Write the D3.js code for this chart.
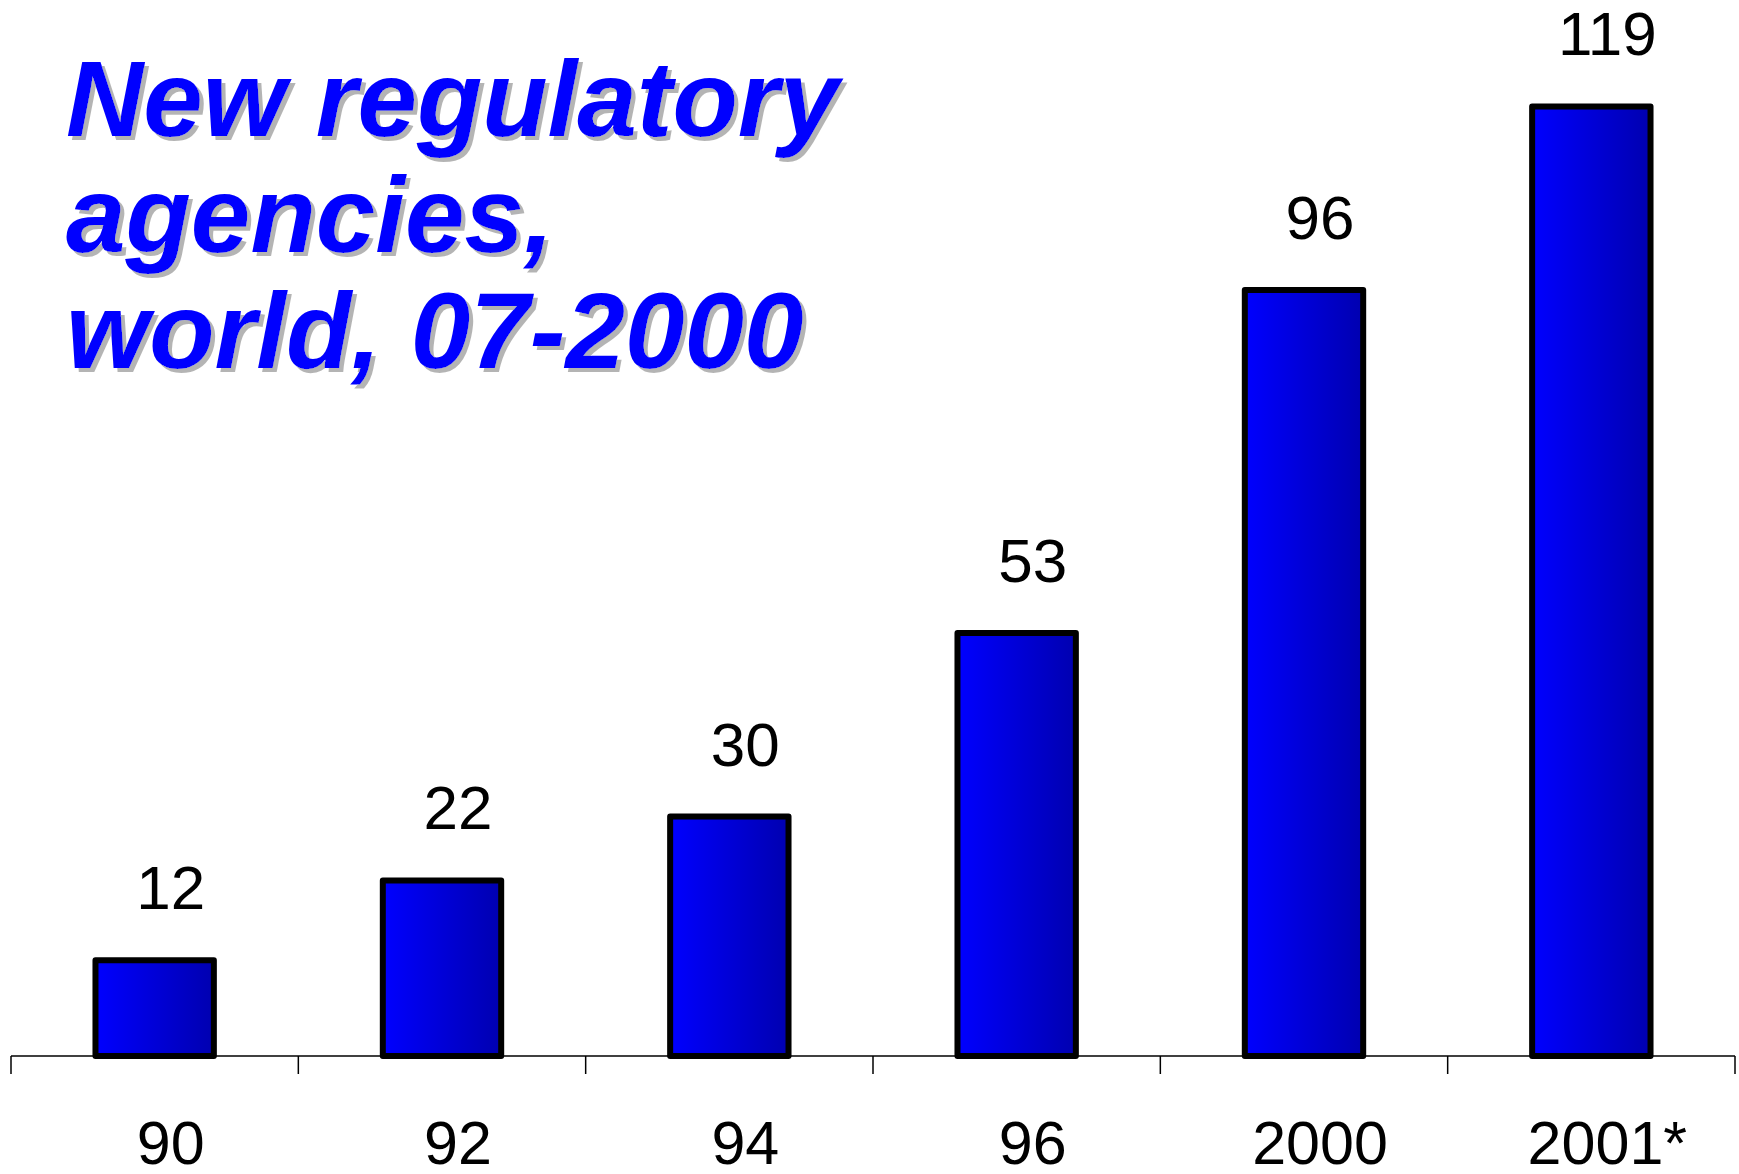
<!DOCTYPE html>
<html>
<head>
<meta charset="utf-8">
<script src="https://cdn.jsdelivr.net/npm/d3@7"></script>
<style>
  body { margin: 0; background: #fff; }
  svg text { font-family: "Liberation Sans", Arial, sans-serif; }
</style>
</head>
<body>
<div id="chart"></div>
<script>
var years = ["90", "92", "94", "96", "2000", "2001*"];
var agencies = [12, 22, 30, 53, 96, 119];
var titleLines = ["New regulatory", "agencies,", "world, 07-2000"];

var width = 1739, height = 1174;
var baseY = 1056;

var svg = d3.select("#chart")
  .append("svg")
    .attr("width", width)
    .attr("height", height);

var defs = svg.append("defs");
var grad = defs.append("linearGradient")
  .attr("id", "barGrad")
  .attr("x1", "0%").attr("x2", "100%")
  .attr("y1", "0%").attr("y2", "0%");
grad.append("stop").attr("offset", "0%").attr("stop-color", "#0000ff");
grad.append("stop").attr("offset", "100%").attr("stop-color", "#0000b0");

// gray drop shadow behind the title
var shadow = defs.append("filter")
  .attr("id", "shadow")
  .attr("x", "-5%").attr("y", "-5%")
  .attr("width", "115%").attr("height", "120%");
shadow.append("feOffset").attr("in", "SourceAlpha").attr("dx", 4).attr("dy", 4).attr("result", "off");
shadow.append("feFlood").attr("flood-color", "#b4b4b4").attr("result", "col");
shadow.append("feComposite").attr("in", "col").attr("in2", "off").attr("operator", "in").attr("result", "sh");
var merge = shadow.append("feMerge");
merge.append("feMergeNode").attr("in", "sh");
merge.append("feMergeNode").attr("in", "SourceGraphic");

var x = d3.scaleBand()
  .domain(years)
  .range([11, 1735])
  .padding(0);

var y = d3.scaleLinear()
  .domain([0, 130])
  .range([baseY, baseY - 130 * 7.98]);

var barW = x.bandwidth() * 0.412;

// bars
svg.append("g")
  .selectAll("rect")
  .data(agencies)
  .enter()
  .append("rect")
    .attr("x", function(d, i) { return x(years[i]) + (x.bandwidth() - barW) / 2; })
    .attr("y", function(d) { return y(d); })
    .attr("width", barW)
    .attr("height", function(d) { return baseY - y(d); })
    .style("fill", "url(#barGrad)")
    .style("stroke", "#000")
    .style("stroke-width", 6)
    .style("stroke-linejoin", "round");

// value labels
svg.append("g")
  .selectAll("text")
  .data(agencies)
  .enter()
  .append("text")
    .attr("x", function(d, i) { return x(years[i]) + x.bandwidth() / 2 + 16; })
    .attr("y", function(d) { return y(d) - 51; })
    .attr("text-anchor", "middle")
    .style("font-size", "62px")
    .style("fill", "#000")
    .text(function(d) { return d; });

// x axis: labels from axisBottom, ticks at band edges
var xAxis = svg.append("g")
  .attr("transform", "translate(0," + baseY + ")")
  .call(d3.axisBottom(x).tickSize(0).tickPadding(0));
xAxis.select(".domain").remove();
xAxis.selectAll("text")
  .attr("y", 108)
  .attr("dy", 0)
  .attr("dx", 16)
  .style("font-family", "'Liberation Sans', Arial, sans-serif")
  .style("font-size", "61px")
  .style("fill", "#000");

svg.append("line")
  .attr("x1", x.range()[0]).attr("x2", x.range()[1])
  .attr("y1", baseY).attr("y2", baseY)
  .style("stroke", "#000")
  .style("stroke-width", 1.5);

var edges = years.map(function(d) { return x(d); }).concat([x.range()[1]]);
svg.append("g")
  .selectAll("line")
  .data(edges)
  .enter()
  .append("line")
    .attr("x1", function(d) { return d; })
    .attr("x2", function(d) { return d; })
    .attr("y1", baseY)
    .attr("y2", baseY + 18)
    .style("stroke", "#000")
    .style("stroke-width", 1.5);

// title
svg.append("g")
  .attr("filter", "url(#shadow)")
  .selectAll("text")
  .data(titleLines)
  .enter()
  .append("text")
    .attr("x", 66)
    .attr("y", function(d, i) { return 136 + i * 116; })
    .style("font-size", "107px")
    .style("font-weight", "bold")
    .style("font-style", "italic")
    .style("fill", "#0000ff")
    .text(function(d) { return d; });
</script>
</body>
</html>
